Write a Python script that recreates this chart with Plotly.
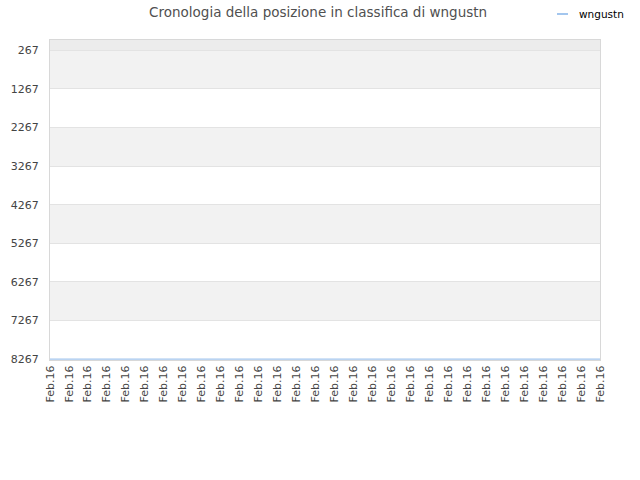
import plotly.graph_objects as go

# dati
time_labels = ["Feb.16"] * 30
positions = list(range(30))
ranks = [8267] * 30
rank_ticks = [267, 1267, 2267, 3267, 4267, 5267, 6267, 7267, 8267]
player = "wngustn"
line_color = "#a3c6ee"

fig = go.Figure()

fig.add_trace(go.Scatter(
    x=positions,
    y=ranks,
    mode="lines",
    name=player,
    showlegend=False,
    line=dict(color=line_color, width=1.2),
))

# fasce alternate di sfondo tra le tacche
bands = [(0, rank_ticks[0], "#ececec")]
for i in range(len(rank_ticks) - 1):
    if i % 2 == 0:
        bands.append((rank_ticks[i], rank_ticks[i + 1], "#f2f2f2"))
shapes = [
    dict(type="rect", xref="paper", yref="y", x0=0, x1=1, y0=a, y1=b,
         fillcolor=c, line=dict(width=0), layer="below")
    for a, b, c in bands
]

# legenda piccola in alto a destra (simbolo corto + nome)
shapes.append(dict(type="line", xref="paper", yref="paper",
                   x0=0.9218, x1=0.9418, y0=1.0812, y1=1.0812,
                   line=dict(color=line_color, width=2)))

fig.update_layout(
    width=640,
    height=480,
    title=dict(text="Cronologia della posizione in classifica di " + player,
               x=0.497, xanchor="center", y=0.975, yanchor="middle",
               font=dict(family="DejaVu Sans", size=13.5, color="#505050")),
    paper_bgcolor="white",
    plot_bgcolor="white",
    margin=dict(l=50, r=40, t=40, b=120),
    shapes=shapes,
    annotations=[dict(text=player, xref="paper", yref="paper",
                      x=0.958, y=1.0812, xanchor="left", yanchor="middle",
                      showarrow=False,
                      font=dict(family="DejaVu Sans", size=10.5, color="#000000"))],
    font=dict(family="DejaVu Sans", size=11, color="#444444"),
)

fig.update_xaxes(
    range=[0, 29],
    tickmode="array",
    tickvals=positions,
    ticktext=time_labels,
    tickangle=-90,
    showgrid=False,
    zeroline=False,
    showline=True,
    linecolor="#d8d8d8",
    mirror=True,
    ticks="",
    automargin=False,
    tickfont=dict(size=11, color="#444444"),
)

fig.update_yaxes(
    range=[8290, 0],
    tickmode="array",
    tickvals=rank_ticks,
    showgrid=True,
    gridcolor="#e3e3e3",
    zeroline=False,
    showline=True,
    linecolor="#d8d8d8",
    mirror=True,
    ticks="outside",
    ticklen=8,
    tickcolor="rgba(0,0,0,0)",
    automargin=False,
    tickfont=dict(size=11, color="#444444"),
)

# niente margine della pagina, il grafico parte dall'angolo in alto a sinistra
fig.write_html("out.html", config={"displayModeBar": False},
               post_script="document.body.style.margin='0';")
